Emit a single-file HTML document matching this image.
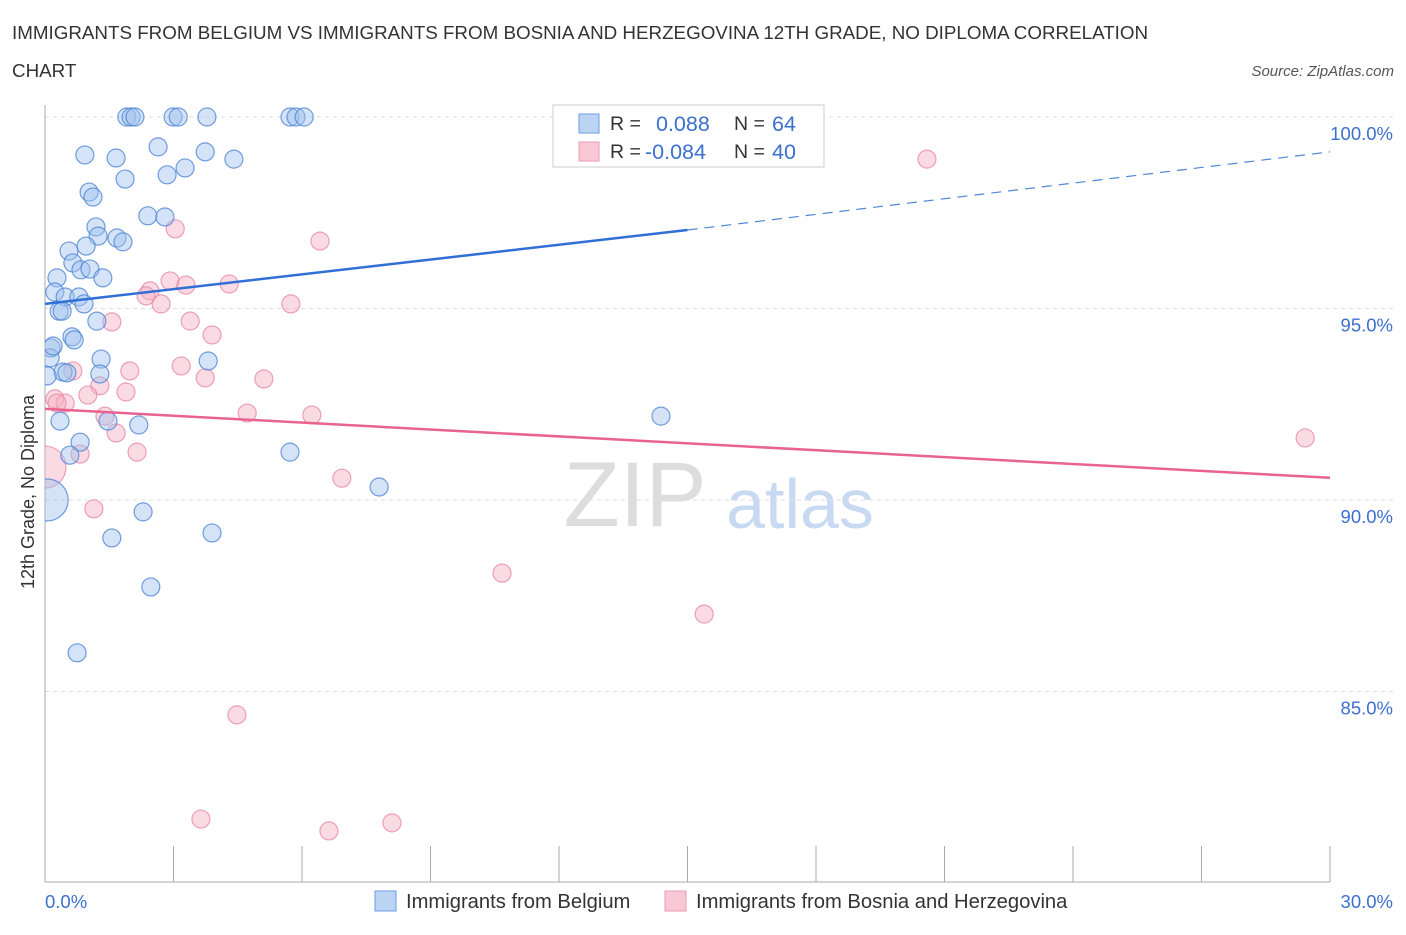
<!DOCTYPE html>
<html><head><meta charset="utf-8"><style>
body{margin:0;background:#fff;font-family:"Liberation Sans",sans-serif;}
svg text{font-family:"Liberation Sans",sans-serif;}
</style></head><body>
<svg width="1406" height="930" viewBox="0 0 1406 930">
<defs><clipPath id="plotclip"><rect x="45" y="90" width="1380" height="800"/></clipPath></defs>
<text x="12" y="39" font-size="18.8" fill="#333">IMMIGRANTS FROM BELGIUM VS IMMIGRANTS FROM BOSNIA AND HERZEGOVINA 12TH GRADE, NO DIPLOMA CORRELATION</text>
<text x="12" y="77" font-size="18.8" fill="#333">CHART</text>
<text x="1394" y="76" font-size="15" fill="#555" font-style="italic" text-anchor="end">Source: ZipAtlas.com</text>
<text x="635" y="526" font-size="92" fill="#ddd" font-family="Liberation Serif" text-anchor="middle">ZIP</text>
<text x="800" y="528" font-size="70" fill="#c8daf2" text-anchor="middle">atlas</text>
<g id="grid"></g>
<g id="axes"></g>
<g id="pts" clip-path="url(#plotclip)"></g>
<g id="lines"></g>
<text transform="translate(34,492) rotate(-90)" font-size="18" fill="#333" text-anchor="middle">12th Grade, No Diploma</text>
<text x="45" y="908" font-size="18.5" fill="#3b6fd0">0.0%</text>
<text x="1393" y="908" font-size="18.5" fill="#3b6fd0" text-anchor="end">30.0%</text>
<g>
<rect x="553" y="105" width="271" height="62" fill="#fff" stroke="#ccc"/>
<rect x="579" y="114" width="20" height="19" fill="#bcd4f4" stroke="#6b9be0"/>
<rect x="579" y="142" width="20" height="19" fill="#f8c8d6" stroke="#eb9ab3"/>
<text x="610" y="130" font-size="19.5" fill="#333">R =</text>
<text x="656" y="131" font-size="21.5" fill="#3b6fd0">0.088</text>
<text x="734" y="130" font-size="19.5" fill="#333">N =</text>
<text x="772" y="131" font-size="21.5" fill="#3b6fd0">64</text>
<text x="610" y="158" font-size="19.5" fill="#333">R =</text>
<text x="645" y="159" font-size="21.5" fill="#3b6fd0">-0.084</text>
<text x="734" y="158" font-size="19.5" fill="#333">N =</text>
<text x="772" y="159" font-size="21.5" fill="#3b6fd0">40</text>
</g>
<g>
<rect x="375" y="891" width="21" height="20" fill="#bcd4f4" stroke="#6b9be0"/>
<text x="406" y="908" font-size="20.2" fill="#333">Immigrants from Belgium</text>
</g>
<g>
<rect x="665" y="891" width="21" height="20" fill="#f8c8d6" stroke="#eb9ab3"/>
<text x="696" y="908" font-size="20.2" fill="#333">Immigrants from Bosnia and Herzegovina</text>
</g>
</svg>
<script>
const yTicks=[100,95,90,85];
const yTickLabels=["100.0%","95.0%","90.0%","85.0%"];
const xTicks=[0,3,6,9,12,15,18,21,24,27,30];
const belgiumX=[1.91,2.01,2.10,2.99,3.11,3.78,5.72,5.86,6.05,0.93,1.66,2.64,3.27,3.74,4.41,1.87,2.85,1.03,1.12,2.40,2.80,1.19,1.68,1.82,1.24,0.96,0.56,0.65,0.84,1.05,1.35,0.28,0.23,0.47,0.79,0.91,0.33,0.40,1.21,0.63,0.68,0.14,0.12,1.31,3.81,0.42,0.51,1.28,0.05,1.47,0.35,2.19,0.82,0.58,5.72,14.38,7.80,2.29,1.56,3.90,2.47,0.75,0.19,0.05];
const belgiumY=[100,100,100,100,100,100,100,100,100,99.01,98.93,99.22,98.67,99.09,98.90,98.38,98.49,98.04,97.91,97.42,97.39,97.13,96.84,96.74,96.89,96.63,96.50,96.19,96.01,96.03,95.80,95.80,95.43,95.30,95.30,95.12,94.93,94.93,94.67,94.26,94.18,93.97,93.71,93.68,93.63,93.34,93.32,93.29,93.24,92.06,92.06,91.96,91.51,91.17,91.25,92.19,90.34,89.69,89.01,89.14,87.73,86.01,94.02,90.0];
const belgiumBig=[63];
const bosniaX=[20.59,3.04,6.42,2.92,3.29,4.30,2.45,2.36,2.71,5.74,1.56,3.39,3.90,3.18,1.98,0.65,3.74,5.11,1.28,1.89,1.00,0.23,0.47,0.28,4.72,6.23,1.40,1.66,2.15,0.82,29.42,6.93,1.14,10.67,15.39,4.48,3.64,6.63,8.10,0.0];
const bosniaY=[98.90,97.08,96.76,95.72,95.61,95.64,95.46,95.33,95.12,95.12,94.65,94.67,94.31,93.50,93.37,93.37,93.19,93.16,92.98,92.82,92.74,92.64,92.53,92.53,92.27,92.22,92.19,91.75,91.25,91.20,91.62,90.57,89.77,88.09,87.02,84.39,81.67,81.36,81.57,90.86];
const bosniaBig=[39];
const belgiumTrend=[95.12,97.05,99.09];
const bosniaTrend=[92.38,90.58];
const NS="http://www.w3.org/2000/svg";
const sx=v=>45+v*(1330-45)/30;
const sy=v=>117+(100-v)*38.3;
function mk(tag,attrs,parent){const e=document.createElementNS(NS,tag);for(const k in attrs)e.setAttribute(k,attrs[k]);parent.appendChild(e);return e;}
const grid=document.getElementById('grid'),axes=document.getElementById('axes'),pts=document.getElementById('pts'),lines=document.getElementById('lines');
yTicks.forEach((t,i)=>{
 const l=mk('line',{x1:45,x2:1395,y1:sy(t),y2:sy(t),stroke:'#ddd','stroke-dasharray':'4,4'},grid);
 
 
 const tx=mk('text',{x:1393,y:sy(t)+23,'font-size':18.5,fill:'#3b6fd0','text-anchor':'end'},grid);
 tx.textContent=yTickLabels[i];
 
 
});
const ya=mk('line',{x1:45,x2:45,y1:105,y2:882,stroke:'#aaa'},axes);


const xa=mk('line',{x1:45,x2:1330,y1:882,y2:882,stroke:'#aaa'},axes);


xTicks.forEach(t=>{
 const l=mk('line',{x1:sx(t),x2:sx(t),y1:846,y2:882,stroke:'#aaa'},axes);
 
 
});
function dots(X,Y,big,fill,stroke,name){
 X.forEach((x,i)=>{
  const r=big.includes(i)?21:9;
  const c=mk('circle',{cx:sx(x),cy:sy(Y[i]),r:r,fill:fill,'fill-opacity':0.45,stroke:stroke,'stroke-opacity':0.8,'stroke-width':1.2},pts);
  
  
 });
}
dots(bosniaX,bosniaY,bosniaBig,'#f4afc4','#e88aa8','bosnia-point');
dots(belgiumX,belgiumY,belgiumBig,'#9fc1ee','#4f86d6','belgium-point');
const b1=mk('line',{x1:sx(0),y1:sy(belgiumTrend[0]),x2:sx(15),y2:sy(belgiumTrend[1]),stroke:'#2f6fd6','stroke-width':2.5},lines);


const b2=mk('line',{x1:sx(15),y1:sy(belgiumTrend[1]),x2:sx(30),y2:sy(belgiumTrend[2]),stroke:'#4f86d6','stroke-width':1.2,'stroke-dasharray':'10,7'},lines);


const p1=mk('line',{x1:sx(0),y1:sy(bosniaTrend[0]),x2:sx(30),y2:sy(bosniaTrend[1]),stroke:'#e8638f','stroke-width':2.5},lines);


</script>
</body></html>
